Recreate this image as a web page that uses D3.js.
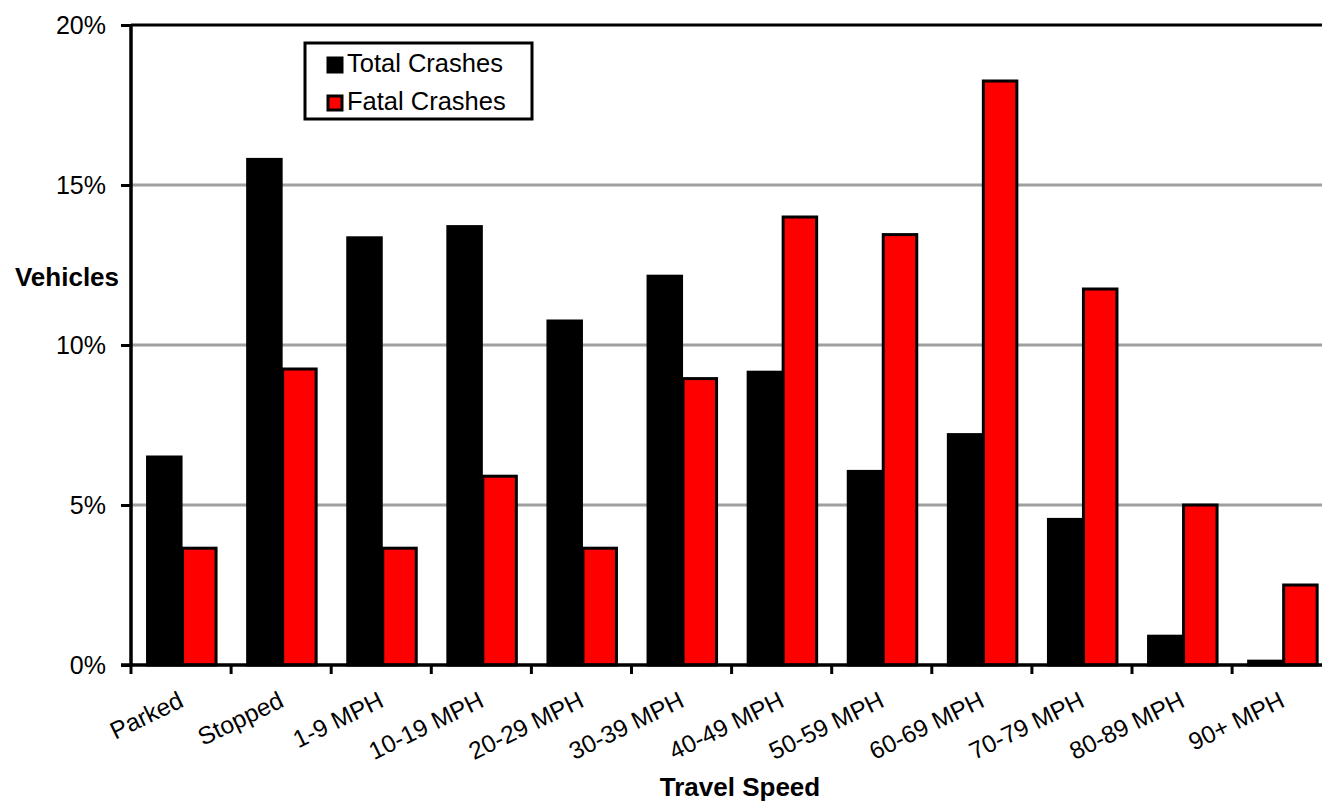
<!DOCTYPE html>
<html>
<head>
<meta charset="utf-8">
<script src="https://cdn.jsdelivr.net/npm/d3@7"></script>
<style>
  body { margin: 0; background: #fff; }
  svg { display: block; font-family: "Liberation Sans", Arial, sans-serif; }
</style>
</head>
<body>
<svg id="chart" width="1322" height="803"></svg>
<script>
const categories = ["Parked", "Stopped", "1-9 MPH", "10-19 MPH", "20-29 MPH", "30-39 MPH",
  "40-49 MPH", "50-59 MPH", "60-69 MPH", "70-79 MPH", "80-89 MPH", "90+ MPH"];
const totalCrashes = [6.5, 15.8, 13.35, 13.7, 10.75, 12.15, 9.15, 6.05, 7.2, 4.55, 0.9, 0.12];
const fatalCrashes = [3.65, 9.25, 3.65, 5.9, 3.65, 8.95, 14.0, 13.45, 18.25, 11.75, 5.0, 2.5];
const seriesNames = ["Total Crashes", "Fatal Crashes"];
const seriesColors = ["#000000", "#ff0000"];
const yTicks = [0, 5, 10, 15, 20];

(function () {
const svg = d3.select("#chart");
const mLeft = 131, mTop = 25, mBottom = 665;
const bandW = 100.1;
const mRight = mLeft + bandW * categories.length;

const x = d3.scaleBand().domain(categories).range([mLeft, mRight]).paddingInner(0).paddingOuter(0);
const y = d3.scaleLinear().domain([0, 20]).range([mBottom, mTop]);
const xs = d3.scaleBand().domain(seriesNames).range([0, x.bandwidth()]).paddingInner(0).paddingOuter(0.43);

// gridlines
svg.append("g").selectAll("line").data(yTicks.filter(d => d > 0 && d < 20)).join("line")
  .attr("x1", mLeft).attr("x2", 1322)
  .attr("y1", d => y(d)).attr("y2", d => y(d))
  .attr("stroke", "#a0a0a0").attr("stroke-width", 3);

// top border
svg.append("line").attr("x1", mLeft).attr("x2", 1322).attr("y1", y(20)).attr("y2", y(20))
  .attr("stroke", "#000").attr("stroke-width", 3);

// bars
const data = categories.map((c, i) => ({ c, vals: [totalCrashes[i], fatalCrashes[i]] }));
const groups = svg.append("g").selectAll("g").data(data).join("g")
  .attr("transform", d => `translate(${x(d.c)},0)`);
groups.selectAll("rect").data(d => d.vals.map((v, j) => ({ v, s: seriesNames[j], j }))).join("rect")
  .attr("x", d => xs(d.s) + 1.5)
  .attr("width", xs.bandwidth() - 1.5)
  .attr("y", d => y(d.v))
  .attr("height", d => mBottom - y(d.v))
  .attr("fill", d => seriesColors[d.j])
  .attr("stroke", "#000").attr("stroke-width", 3);

// y axis
const yAxis = d3.axisLeft(y).tickValues(yTicks).tickFormat(d => d + "%").tickSize(10).tickPadding(15);
const gy = svg.append("g").attr("transform", `translate(${mLeft},0)`).call(yAxis);
gy.select(".domain").attr("stroke-width", 3.5).attr("d", `M0,${y(20)}V${mBottom}`);
gy.selectAll(".tick line").attr("stroke-width", 3);
gy.selectAll(".tick text").attr("font-size", 25).attr("fill", "#000").attr("font-family", "Liberation Sans, Arial, sans-serif");

// x axis
const gx = svg.append("g").attr("transform", `translate(0,${mBottom})`);
gx.append("line").attr("x1", mLeft - 10).attr("x2", 1322).attr("y1", 0).attr("y2", 0)
  .attr("stroke", "#000").attr("stroke-width", 3.5);
gx.selectAll("line.tk").data(categories).join("line").attr("class", "tk")
  .attr("x1", d => x(d)).attr("x2", d => x(d)).attr("y1", 0).attr("y2", 9)
  .attr("stroke", "#000").attr("stroke-width", 3);
gx.selectAll("text").data(categories).join("text")
  .attr("transform", d => `translate(${x(d) + x.bandwidth() / 2 + 4},${41}) rotate(-26)`)
  .attr("text-anchor", "end")
  .attr("font-size", 24.5)
  .text(d => d);

// axis titles
svg.append("text").attr("x", 67).attr("y", 286).attr("text-anchor", "middle")
  .attr("font-size", 26).attr("font-weight", "bold").text("Vehicles");
svg.append("text").attr("x", 740).attr("y", 796).attr("text-anchor", "middle")
  .attr("font-size", 26).attr("font-weight", "bold").text("Travel Speed");

// legend
const lg = svg.append("g");
lg.append("rect").attr("x", 305).attr("y", 43).attr("width", 227).attr("height", 76)
  .attr("fill", "#fff").attr("stroke", "#000").attr("stroke-width", 3);
seriesNames.forEach((s, i) => {
  const by = 72 + i * 38;
  lg.append("rect").attr("x", 328).attr("y", by - 14).attr("width", 14).attr("height", 14)
    .attr("fill", seriesColors[i]).attr("stroke", "#000").attr("stroke-width", 3);
  lg.append("text").attr("x", 347).attr("y", by).attr("font-size", 25.5).text(s);
});
})();
</script>
</body>
</html>
